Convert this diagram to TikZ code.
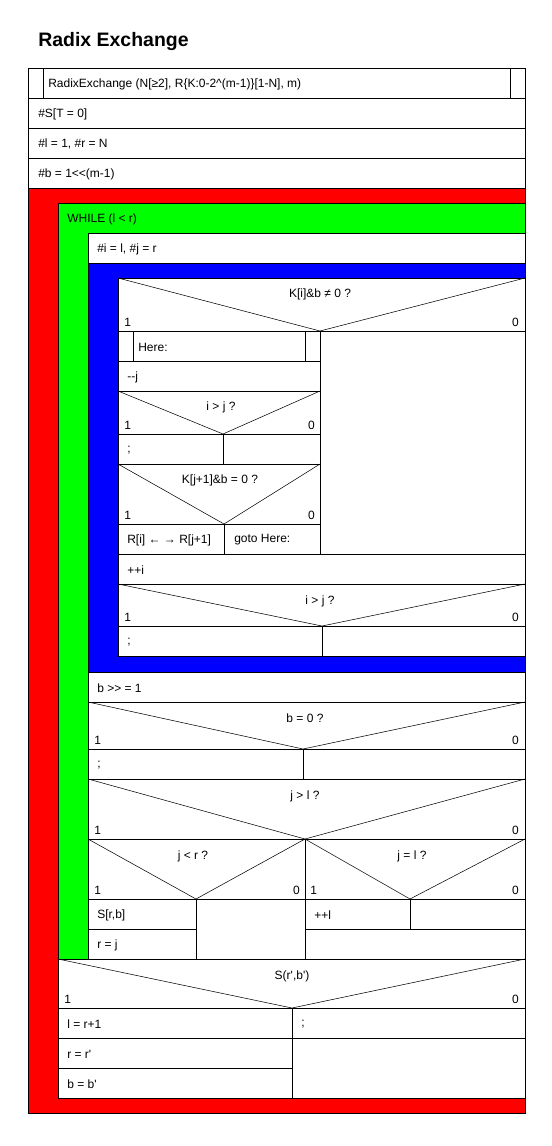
\documentclass[tikz,border=0pt]{standalone}
\usepackage{fontspec}
\setmainfont{Liberation Sans}
\tikzset{
	cell/.style={draw=black,fill=white,line width=0.6pt},
	band/.style={draw=black,line width=0.6pt},
	txt/.style={anchor=west,inner sep=0pt,font=\fontsize{9}{11}\selectfont},
	cond/.style={anchor=center,inner sep=0pt,font=\fontsize{9}{11}\selectfont},
	yes/.style={anchor=west,inner sep=0pt,font=\fontsize{9}{11}\selectfont},
	no/.style={anchor=east,inner sep=0pt,font=\fontsize{9}{11}\selectfont},
}
\begin{document}
\begin{tikzpicture}[x=0.75pt,y=-0.75pt,line join=miter]
	\useasboundingbox (0,0) rectangle (552,1146);
	\node[anchor=west,inner sep=0pt,font=\fontsize{14.6}{17}\selectfont\bfseries] (title) at (38,42) {Radix Exchange};
	% header and init
	\draw[cell] (28,68) rectangle (525,98);
	\draw (43,68)--(43,98) (510,68)--(510,98);
	\node[txt] (head) at (48,84) {RadixExchange (N[≥2], R\{K:0-2\textasciicircum(m-1)\}[1-N], m)};
	\draw[cell] (28,98) rectangle (525,128);
	\node[txt] (sinit) at (38,114) {\#S[T = 0]};
	\draw[cell] (28,128) rectangle (525,158);
	\node[txt] (lrinit) at (38,144) {\#l = 1, \#r = N};
	\draw[cell] (28,158) rectangle (525,188);
	\node[txt] (binit) at (38,174) {\#b = 1<{}<(m-1)};
	% loops
	\draw[band,fill=red] (28,188) rectangle (525,1113);
	\draw[band,fill=green] (58,203) rectangle (525,959);
	\node[txt] (while) at (67,219) {WHILE (l < r)};
	\draw[cell] (88,233) rectangle (525,263);
	\node[txt] (ijinit) at (97,249) {\#i = l, \#j = r};
	\draw[band,fill=blue] (88,263) rectangle (525,672);
	% K[i]&b test
	\draw[cell] (118,278) rectangle (525,331);
	\draw (118,278)--(320,331)--(525,278);
	\node[cond] (kib) at (320,294) {K[i]\&b ≠ 0 ?};
	\node[yes] (kib1) at (124,322) {1};
	\node[no] (kib0) at (519,322) {0};
	\draw[cell] (118,331) rectangle (320,361);
	\draw (133,331)--(133,361) (305,331)--(305,361);
	\node[txt] (here) at (138,347) {Here:};
	\draw[cell] (320,331) rectangle (525,554);
	\draw[cell] (118,361) rectangle (320,391);
	\node[txt] (decj) at (127,377) {-{}-j};
	\draw[cell] (118,391) rectangle (320,434);
	\draw (118,391)--(223,434)--(320,391);
	\node[cond] (ij1) at (221,407) {i > j ?};
	\node[yes] (ij11) at (124,425) {1};
	\node[no] (ij10) at (315,425) {0};
	\draw[cell] (118,434) rectangle (223,464);
	\node[txt] (semi1) at (127,450) {;};
	\draw[cell] (223,434) rectangle (320,464);
	\draw[cell] (118,464) rectangle (320,524);
	\draw (118,464)--(224,524)--(320,464);
	\node[cond] (kjb) at (220,480) {K[j+1]\&b = 0 ?};
	\node[yes] (kjb1) at (124,515) {1};
	\node[no] (kjb0) at (315,515) {0};
	\draw[cell] (118,524) rectangle (224,554);
	\node[txt] (swap) at (127,540) {R[i] ← → R[j+1]};
	\draw[cell] (224,524) rectangle (320,554);
	\node[txt] (goto) at (234,540) {goto Here:};
	\draw[cell] (118,554) rectangle (525,584);
	\node[txt] (inci) at (127,570) {++i};
	\draw[cell] (118,584) rectangle (525,626);
	\draw (118,584)--(322,626)--(525,584);
	\node[cond] (ij2) at (320,601) {i > j ?};
	\node[yes] (ij21) at (124,617) {1};
	\node[no] (ij20) at (519,617) {0};
	\draw[cell] (118,626) rectangle (322,656);
	\node[txt] (semi2) at (127,642) {;};
	\draw[cell] (322,626) rectangle (525,656);
	% after the inner loop
	\draw[cell] (88,672) rectangle (525,702);
	\node[txt] (shift) at (97,688) {b >{}> = 1};
	\draw[cell] (88,702) rectangle (525,749);
	\draw (88,702)--(303,749)--(525,702);
	\node[cond] (bz) at (305,718) {b = 0 ?};
	\node[yes] (bz1) at (94,740) {1};
	\node[no] (bz0) at (519,740) {0};
	\draw[cell] (88,749) rectangle (303,779);
	\node[txt] (semi3) at (97,765) {;};
	\draw[cell] (303,749) rectangle (525,779);
	\draw[cell] (88,779) rectangle (525,839);
	\draw (88,779)--(305,839)--(525,779);
	\node[cond] (jl) at (305,796) {j > l ?};
	\node[yes] (jl1) at (94,830) {1};
	\node[no] (jl0) at (519,830) {0};
	\draw[cell] (88,839) rectangle (305,899);
	\draw (88,839)--(196,899)--(305,839);
	\node[cond] (jr) at (193,856) {j < r ?};
	\node[yes] (jr1) at (94,890) {1};
	\node[no] (jr0) at (300,890) {0};
	\draw[cell] (305,839) rectangle (525,899);
	\draw (305,839)--(410,899)--(525,839);
	\node[cond] (jeq) at (412,856) {j = l ?};
	\node[yes] (jeq1) at (310,890) {1};
	\node[no] (jeq0) at (519,890) {0};
	\draw[cell] (88,899) rectangle (196,929);
	\node[txt] (push) at (97,915) {S[r,b]};
	\draw[cell] (88,929) rectangle (196,959);
	\node[txt] (rj) at (97,945) {r = j};
	\draw[cell] (196,899) rectangle (305,959);
	\draw[cell] (305,899) rectangle (410,929);
	\node[txt] (incl) at (314,915) {++l};
	\draw[cell] (410,899) rectangle (525,929);
	\draw[cell] (305,929) rectangle (525,959);
	% stack pop
	\draw[cell] (58,959) rectangle (525,1008);
	\draw (58,959)--(292,1008)--(525,959);
	\node[cond] (pop) at (292,976) {S(r\textquotesingle,b\textquotesingle)};
	\node[yes] (pop1) at (64,999) {1};
	\node[no] (pop0) at (519,999) {0};
	\draw[cell] (58,1008) rectangle (292,1038);
	\node[txt] (lr) at (67,1024) {l = r+1};
	\draw[cell] (292,1008) rectangle (525,1038);
	\node[txt] (semi4) at (301,1024) {;};
	\draw[cell] (58,1038) rectangle (292,1068);
	\node[txt] (rr) at (67,1054) {r = r\textquotesingle};
	\draw[cell] (58,1068) rectangle (292,1098);
	\node[txt] (bb) at (67,1084) {b = b\textquotesingle};
	\draw[cell] (292,1038) rectangle (525,1098);
\end{tikzpicture}
\end{document}
